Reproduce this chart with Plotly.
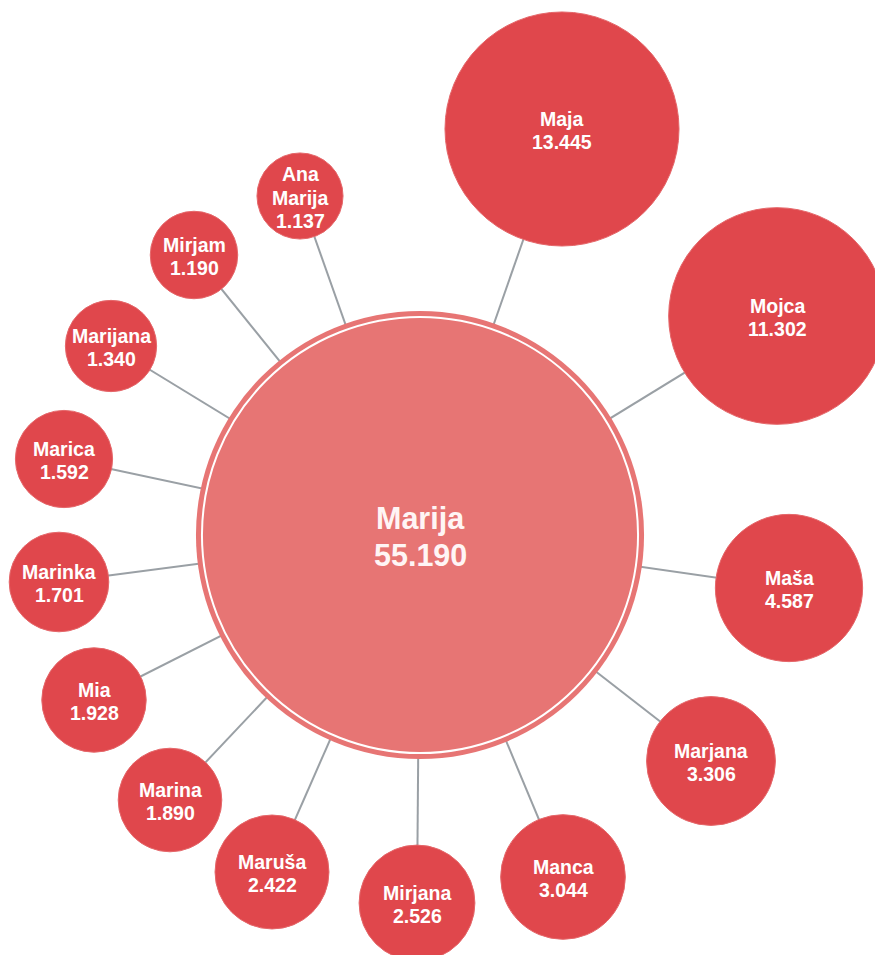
import plotly.graph_objects as go

# ---- data ----
names = ["Marija", "Maja", "Mojca", "Maša", "Marjana", "Manca", "Mirjana", "Maruša",
         "Marina", "Mia", "Marinka", "Marica", "Marijana", "Mirjam", "Ana Marija"]
counts = [55190, 13445, 11302, 4587, 3306, 3044, 2526, 2422,
          1890, 1928, 1701, 1592, 1340, 1190, 1137]

# ---- layout positions (pixel space of the 875x955 canvas) ----
pos_x = [420, 562, 777, 789, 711, 563, 417, 272, 170, 94, 59, 64, 111, 194, 300]
pos_y = [535, 129, 316, 588, 761, 877, 903, 872, 800, 700, 582, 459, 346, 255, 196]

W, H = 875, 955
SAT_COLOR = "#E0474C"
HUB_COLOR = "#E77574"
LINK_COLOR = "#9AA0A5"
FONT = "Liberation Sans, Arial, sans-serif"


def radius(v):
    return 12.7 + 28.45 * (v / 1000.0) ** 0.5


def fmt(v):
    return f"{v:,}".replace(",", ".")


radii = [radius(v) for v in counts]

fig = go.Figure()

# links hub -> satellites
lx, ly = [], []
for i in range(1, len(names)):
    lx += [pos_x[0], pos_x[i], None]
    ly += [pos_y[0], pos_y[i], None]
fig.add_trace(go.Scatter(x=lx, y=ly, mode="lines",
                         line=dict(color=LINK_COLOR, width=2),
                         hoverinfo="skip", showlegend=False, cliponaxis=False))

# satellites
fig.add_trace(go.Scatter(
    x=pos_x[1:], y=pos_y[1:], mode="markers", cliponaxis=False,
    marker=dict(size=[2 * r for r in radii[1:]], color=SAT_COLOR,
                line=dict(width=1, color="#E5676A"), opacity=1),
    hoverinfo="skip", showlegend=False))

# hub
fig.add_trace(go.Scatter(
    x=[pos_x[0]], y=[pos_y[0]], mode="markers", cliponaxis=False,
    marker=dict(size=[2 * radii[0]], color=HUB_COLOR, line=dict(width=0), opacity=1),
    hoverinfo="skip", showlegend=False))
fig.add_trace(go.Scatter(
    x=[pos_x[0]], y=[pos_y[0]], mode="markers", cliponaxis=False,
    marker=dict(size=[2 * (radii[0] - 6)], color=HUB_COLOR,
                line=dict(width=2, color="white"), opacity=1),
    hoverinfo="skip", showlegend=False))

# labels: one annotation per text line so the line spacing can be matched
annotations = []
for i, (n, v) in enumerate(zip(names, counts)):
    lines = n.split(" ") + [fmt(v)]
    hub = i == 0
    fs = 30.5 if hub else 19.5
    step = 36.7 if hub else 23.3
    k0 = (len(lines) - 1) / 2.0
    for k, t in enumerate(lines):
        annotations.append(dict(
            x=pos_x[i], y=pos_y[i], xref="x", yref="y",
            text=f"<b>{t}</b>", showarrow=False,
            xanchor="center", yanchor="middle",
            yshift=-(k - k0) * step - 1.5,
            font=dict(family=FONT, size=fs, color="#FFF5F5" if hub else "white"),
        ))

fig.update_layout(
    width=W, height=H,
    margin=dict(l=0, r=0, t=0, b=0),
    paper_bgcolor="white", plot_bgcolor="white",
    xaxis=dict(range=[0, W], visible=False, fixedrange=True),
    yaxis=dict(range=[H, 0], visible=False, fixedrange=True),
    showlegend=False,
    annotations=annotations,
)

fig.write_html(
    "out.html",
    config={"displayModeBar": False},
    post_script="document.body.style.margin='0';document.body.style.overflow='hidden';",
)
